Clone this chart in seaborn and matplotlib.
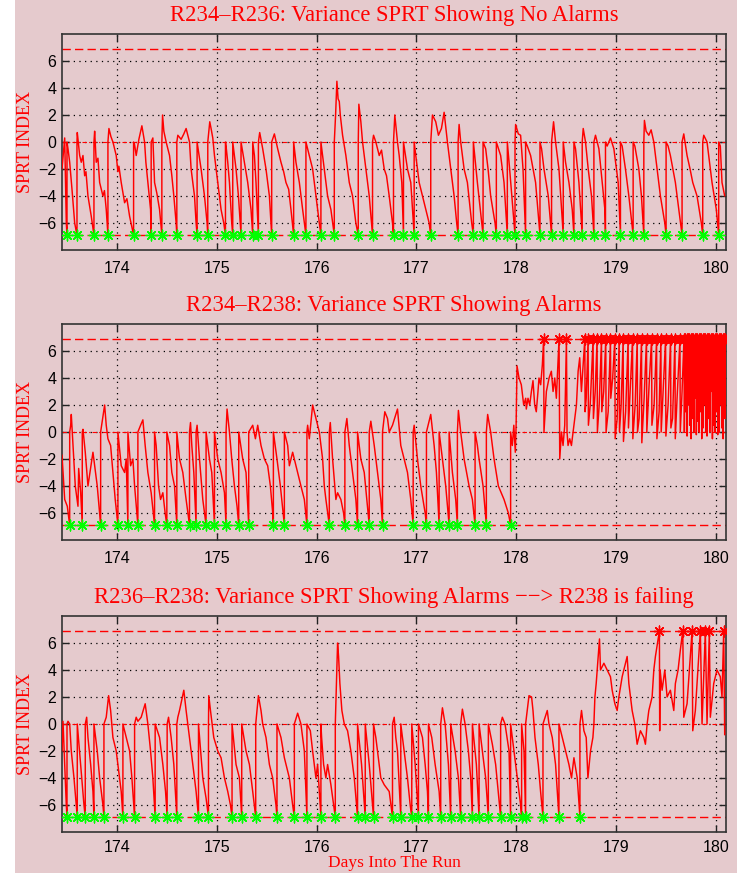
import matplotlib
matplotlib.use("Agg")
import matplotlib.pyplot as plt
import seaborn as sns
import pandas as pd
from matplotlib.patches import Rectangle

# ---------------- data ----------------
titles = [
    "R234\u2013R236: Variance SPRT Showing No Alarms",
    "R234\u2013R238: Variance SPRT Showing Alarms",
    "R236\u2013R238: Variance SPRT Showing Alarms \u2212\u2212> R238 is failing",
]
x_ticks = [174, 175, 176, 177, 178, 179, 180]
y_ticks = [-6, -4, -2, 0, 2, 4, 6]
alarm_level = 6.9
floor_level = -6.9

# panel 1: R234-R236 (day, SPRT index)
p1_points = [
    (173.45, -2.0), (173.477, 0.3), (173.493, -6.0), (173.50, -6.9), (173.50, 0.0),
    (173.51, -0.5), (173.527, -1.5), (173.55, -3.5), (173.577, -6.0), (173.60, -6.9), (173.60, 0.0),
    (173.603, 0.7), (173.627, -1.0), (173.643, -1.5), (173.66, -1.0), (173.677, -2.5), (173.69, -2.2),
    (173.71, -4.0), (173.743, -5.5),
    (173.77, -6.9), (173.77, 0.0), (173.777, 0.8), (173.793, -1.5), (173.81, -1.2), (173.827, -3.0),
    (173.86, -4.0), (173.875, -3.6),
    (173.893, -5.0), (173.91, -6.9), (173.91, 0.0), (173.92, 1.0), (173.94, 0.4), (173.96, 0.0),
    (173.993, -1.0), (174.01, -2.2), (174.02, -1.8),
    (174.043, -3.0), (174.077, -4.5), (174.1, -4.2), (174.127, -5.5), (174.167, -6.9), (174.167, 0.0),
    (174.177, -0.2), (174.193, -1.0), (174.22, 0.2), (174.25, 1.2), (174.277, 0.0), (174.29, -1.5),
    (174.31, -3.0), (174.337, -5.0), (174.343, -6.9),
    (174.343, 0.0), (174.36, 0.3), (174.377, -3.0), (174.4, -3.8), (174.427, -5.0), (174.45, -6.9),
    (174.45, 0.0), (174.457, 2.0), (174.47, 0.8), (174.493, 0.0), (174.527, -1.0), (174.55, -2.5),
    (174.57, -4.0), (174.593, -6.0),
    (174.60, -6.9), (174.60, 0.0), (174.61, 0.5), (174.643, 0.2), (174.67, 0.6), (174.693, 1.0),
    (174.727, 0.0), (174.743, -2.0), (174.777, -4.0), (174.793, -6.0), (174.803, -6.9), (174.803, 0.0),
    (174.843, -2.0), (174.877, -4.0), (174.903, -6.0), (174.91, -6.9), (174.91, 0.0), (174.93, 1.5),
    (174.943, 1.0), (174.96, 0.3),
    (174.977, -1.0), (175.01, -3.0), (175.043, -5.0), (175.07, -6.0), (175.087, -6.9), (175.087, 0.0),
    (175.093, -0.3), (175.11, -1.5), (175.127, -3.0), (175.15, -6.0), (175.16, -6.9), (175.16, 0.0),
    (175.193, -2.0), (175.217, -4.0), (175.243, -6.9), (175.243, 0.0), (175.277, -1.5), (175.31, -3.0),
    (175.343, -5.0), (175.36, -6.9), (175.36, 0.0), (175.377, -1.0), (175.393, -3.0), (175.417, -6.9),
    (175.417, 0.0), (175.43, 0.7), (175.46, -0.5), (175.493, -2.0), (175.527, -4.0), (175.543, -6.0),
    (175.55, -6.9), (175.55, 0.0), (175.577, 0.6), (175.61, -0.5), (175.643, -1.5), (175.67, -2.2),
    (175.693, -3.0), (175.72, -3.5),
    (175.743, -5.0), (175.77, -6.9), (175.77, 0.0), (175.793, -1.5), (175.827, -3.0), (175.86, -5.0),
    (175.893, -6.9), (175.893, 0.0), (175.927, -1.0), (175.96, -2.0), (175.993, -4.0), (176.027, -6.0),
    (176.043, -6.9), (176.043, 0.0), (176.077, -2.0), (176.11, -4.0), (176.143, -5.0), (176.177, -6.9),
    (176.177, 0.0), (176.19, 2.0), (176.203, 4.5), (176.215, 3.2), (176.227, 3.0), (176.237, 2.0),
    (176.26, 0.5), (176.293, -1.0),
    (176.327, -3.0), (176.36, -4.0), (176.393, -6.0), (176.417, -6.9), (176.417, 0.0), (176.423, 2.8),
    (176.443, 1.5), (176.46, 0.0), (176.493, -2.0), (176.527, -4.0), (176.55, -6.0), (176.56, -6.9),
    (176.56, 0.0), (176.57, 0.5), (176.593, 0.0), (176.627, -1.0), (176.65, -0.6), (176.677, -2.0),
    (176.70, -2.5), (176.727, -4.0),
    (176.76, -6.0), (176.77, -6.9), (176.77, 0.0), (176.783, 2.0), (176.81, 0.0), (176.827, -1.0),
    (176.853, -3.0), (176.87, -6.9), (176.87, 0.0), (176.91, -2.0), (176.943, -3.0), (176.977, -6.9),
    (176.977, 0.0), (176.993, -1.0), (177.027, -3.0), (177.06, -4.0), (177.093, -5.0), (177.127, -6.0),
    (177.143, -6.9), (177.143, 0.0), (177.16, 2.0), (177.193, 1.5), (177.22, 0.5), (177.25, 1.0),
    (177.277, 2.2),
    (177.31, 0.0), (177.343, -2.0), (177.377, -4.0), (177.403, -6.0), (177.417, -6.9), (177.417, 0.0),
    (177.427, 1.3), (177.443, 0.0), (177.477, -2.0), (177.51, -3.0), (177.553, -6.0), (177.57, -6.9),
    (177.57, 0.0), (177.61, -3.0), (177.653, -6.0), (177.667, -6.9), (177.667, 0.0), (177.693, -0.5),
    (177.717, -2.0), (177.743, -4.0), (177.787, -6.0), (177.80, -6.9), (177.80, 0.0), (177.843, -1.0),
    (177.877, -3.0), (177.91, -6.9), (177.91, 0.0), (177.933, -2.0), (177.977, -6.0), (177.987, -6.9),
    (177.987, 0.0), (177.993, 1.3), (178.02, 0.6), (178.043, 0.5), (178.067, -2.0), (178.083, -5.0),
    (178.093, -6.9),
    (178.093, 0.0), (178.11, -0.3), (178.143, -1.0), (178.193, -3.0), (178.227, -6.0), (178.237, -6.9),
    (178.237, 0.0), (178.253, -0.5), (178.277, -2.0), (178.32, -4.0), (178.353, -6.9), (178.353, 0.0),
    (178.373, 1.5), (178.393, 0.0), (178.427, -2.0), (178.453, -5.0), (178.47, -6.9), (178.47, 0.0),
    (178.493, -1.5), (178.527, -3.0), (178.56, -5.0), (178.577, -6.9), (178.577, 0.0), (178.593, -0.5),
    (178.627, -3.0), (178.66, -6.9), (178.66, 0.0), (178.67, 1.0), (178.693, 0.0), (178.72, -2.0),
    (178.753, -4.0), (178.777, -6.9), (178.777, 0.0), (178.793, 0.5), (178.827, -0.5), (178.86, -3.0),
    (178.887, -5.0), (178.893, -6.9), (178.893, 0.0), (178.91, -0.3), (178.943, 0.3), (178.977, -0.5),
    (179.02, -3.0), (179.043, -6.9), (179.043, 0.0), (179.06, -0.3), (179.093, -2.0), (179.127, -4.0),
    (179.17, -6.9), (179.17, 0.0), (179.187, -0.3), (179.227, -2.0), (179.253, -4.0), (179.277, -6.9),
    (179.277, 0.0), (179.283, 1.6), (179.30, 0.8), (179.327, 0.5), (179.35, 0.9), (179.377, 0.0),
    (179.41, -2.0), (179.443, -4.0),
    (179.487, -6.0), (179.50, -6.9), (179.50, 0.0), (179.52, -0.3), (179.543, -1.0), (179.593, -3.0),
    (179.627, -5.0), (179.66, -6.9), (179.66, 0.0), (179.677, 0.6), (179.71, -1.0), (179.74, -2.0),
    (179.767, -3.0),
    (179.81, -4.0), (179.853, -6.0), (179.867, -6.9), (179.867, 0.0), (179.877, 0.5), (179.91, 0.0),
    (179.96, -3.0), (180.003, -5.0), (180.027, -6.9), (180.027, 0.0), (180.043, -0.3), (180.06, -3.0),
    (180.087, -4.0),
]

# panel 2: R234-R238 (day, SPRT index)
p2_points = [
    (173.45, -1.7), (173.477, -5.0), (173.503, -5.5), (173.527, -6.9), (173.527, 0.0),
    (173.537, 0.5), (173.543, 1.3), (173.56, -1.0), (173.583, -4.0), (173.61, -5.5), (173.617, -2.7),
    (173.637, -4.5), (173.653, -6.9), (173.653, 0.0), (173.66, 0.2), (173.683, -1.5), (173.71, -4.0),
    (173.76, -1.5), (173.777, -2.5), (173.803, -4.0), (173.827, -6.0), (173.837, -6.9), (173.837, 0.0),
    (173.877, 2.0), (173.893, 0.5), (173.91, -0.5), (173.937, -1.0), (173.96, -3.0), (173.983, -5.0),
    (174.01, -6.9), (174.01, 0.0), (174.043, -2.5), (174.077, -3.0), (174.093, -2.0), (174.11, -6.9),
    (174.11, 0.0), (174.137, -2.5), (174.16, -2.0), (174.177, -4.0), (174.20, -6.0), (174.21, -6.9),
    (174.21, 0.0), (174.237, 0.5), (174.26, 0.9), (174.283, -1.0), (174.31, -3.0), (174.343, -4.5),
    (174.377, -6.9), (174.377, 0.0), (174.393, -1.0), (174.417, -4.0), (174.437, -5.0), (174.46, -4.5),
    (174.483, -6.0), (174.50, -6.9), (174.50, 0.0), (174.527, -1.0), (174.55, -3.0), (174.577, -4.0),
    (174.60, -6.9), (174.60, 0.0), (174.627, -2.0), (174.66, -3.0), (174.693, -5.0), (174.727, -6.9),
    (174.727, 0.0), (174.737, 0.7), (174.75, -1.0), (174.77, -3.0), (174.793, -6.9), (174.793, 0.0),
    (174.803, 0.5), (174.827, -2.0), (174.86, -5.0), (174.893, -6.9), (174.893, 0.0), (174.91, -1.0),
    (174.927, -2.0), (174.95, -3.0), (174.977, -6.9), (174.977, 0.0), (175.01, -2.0), (175.043, -3.0),
    (175.077, -4.5), (175.093, -6.9), (175.093, 0.0), (175.103, 1.7), (175.127, 0.0), (175.15, -2.0),
    (175.177, -4.0), (175.203, -5.5), (175.22, -6.9), (175.22, 0.0), (175.26, -2.0), (175.293, -3.0),
    (175.32, -6.9), (175.32, 0.0), (175.36, 0.5), (175.387, -0.5), (175.41, 0.5), (175.443, -1.0),
    (175.477, -2.0), (175.51, -2.5), (175.537, -4.0), (175.56, -6.0), (175.567, -6.9), (175.567, 0.0),
    (175.603, -2.0), (175.637, -4.0), (175.677, -6.9), (175.677, 0.0), (175.71, -1.0), (175.727, -2.5),
    (175.76, -1.5), (175.793, -2.5), (175.843, -4.0), (175.877, -5.0), (175.903, -6.9), (175.903, 0.0),
    (175.91, 0.5), (175.927, -0.5), (175.96, 2.0), (175.993, 1.0), (176.027, 0.0), (176.06, -2.0),
    (176.077, -4.0), (176.093, -5.0), (176.127, -6.9), (176.127, 0.0), (176.137, 0.7), (176.16, -2.0),
    (176.193, -5.0), (176.21, -4.5), (176.243, -5.0), (176.27, -6.0), (176.283, -6.9), (176.283, 0.0),
    (176.303, 1.0), (176.327, -1.0), (176.36, -3.0), (176.393, -5.0), (176.41, -6.9), (176.41, 0.0),
    (176.443, -2.0), (176.477, -3.0), (176.527, -6.9), (176.527, 0.0), (176.543, 0.8), (176.577, -1.0),
    (176.61, -3.0), (176.643, -5.0), (176.66, -6.9), (176.66, 0.0), (176.683, 1.5), (176.71, 1.0),
    (176.727, 0.0), (176.76, 0.5), (176.81, 1.7), (176.843, -1.0), (176.877, -2.0), (176.91, -3.0),
    (176.943, -5.0), (176.967, -6.9), (176.967, 0.0), (176.977, 0.5), (177.01, -2.0), (177.043, -4.0),
    (177.087, -6.0), (177.10, -6.9), (177.10, 0.0), (177.143, 1.3), (177.177, -1.0), (177.20, -3.0),
    (177.227, -6.9), (177.227, 0.0), (177.26, -2.0), (177.293, -4.0), (177.327, -6.9), (177.327, 0.0),
    (177.36, -3.0), (177.393, -5.0), (177.41, -6.9), (177.41, 0.0), (177.42, 1.6), (177.443, 0.0),
    (177.477, -2.0), (177.527, -4.0), (177.56, -5.0), (177.587, -6.9), (177.587, 0.0), (177.61, -1.0),
    (177.627, -2.0), (177.667, -4.0), (177.70, -6.9), (177.70, 0.0), (177.713, 1.3), (177.743, 0.0),
    (177.777, -2.0), (177.82, -4.0), (177.877, -5.0), (177.92, -6.0), (177.943, -6.9), (177.943, 0.0),
    (177.96, -1.0), (177.975, 0.5), (177.99, -1.5), (177.998, 0.5), (178.007, 4.9), (178.027, 4.0),
    (178.05, 3.5), (178.074, 2.0), (178.094, 2.5), (178.10, 1.7), (178.117, 2.5), (178.134, 2.0),
    (178.151, 3.0), (178.167, 3.8), (178.184, 2.0), (178.20, 1.5), (178.217, 3.0), (178.227, 4.0),
    (178.244, 3.5), (178.261, 5.0), (178.274, 6.9), (178.277, 0.0), (178.301, 3.0), (178.328, 4.0),
    (178.351, 4.5), (178.368, 3.0), (178.385, 4.0), (178.401, 2.5), (178.428, 6.9), (178.435, -2.0),
    (178.452, 0.0), (178.468, -1.0), (178.485, 0.5), (178.502, 6.9), (178.508, 0.0), (178.518, -1.0),
    (178.535, -0.5), (178.552, -1.0), (178.569, 0.0), (178.585, 1.0), (178.602, 2.0), (178.619, 4.5),
    (178.635, 5.5), (178.652, 3.0),
    (178.686, 6.9), (178.689, 1.5), (178.70, 2.5), (178.719, 6.9), (178.722, 0.5), (178.74, 2.0),
    (178.769, 6.9), (178.772, 1.0), (178.79, 3.0), (178.809, 6.9), (178.812, 0.0), (178.83, 2.0),
    (178.853, 6.9), (178.856, 1.5), (178.875, 3.0), (178.896, 6.9), (178.899, 0.0), (178.92, 1.5),
    (178.943, 6.9), (178.946, 2.5), (178.965, 4.0), (178.987, 6.9), (178.990, -0.5), (179.01, 1.0),
    (179.030, 6.9), (179.033, 0.0), (179.05, 2.0), (179.070, 6.9), (179.073, -0.7), (179.095, 1.5),
    (179.120, 6.9), (179.123, 0.3), (179.14, 3.0), (179.164, 6.9), (179.167, -0.5), (179.19, 2.0),
    (179.211, 6.9), (179.214, 0.0), (179.23, 1.0), (179.254, 6.9), (179.257, -0.8), (179.28, 2.5),
    (179.304, 6.9), (179.307, 0.0), (179.33, 3.5), (179.355, 6.9), (179.358, 0.5), (179.38, 2.0),
    (179.405, 6.9), (179.408, -0.5), (179.43, 1.5), (179.448, 6.9), (179.451, 0.0), (179.47, 3.0),
    (179.495, 6.9), (179.498, -0.3), (179.52, 2.0), (179.545, 6.9), (179.548, 0.3), (179.565, 1.0),
    (179.589, 6.9), (179.592, -0.5), (179.61, 2.5), (179.639, 6.9), (179.642, 0.0), (179.66, 3.0),
    (179.679, 6.9), (179.683, 0.0), (179.692, 6.9), (179.696, 1.5), (179.706, 6.9), (179.710, -0.3),
    (179.719, 6.9), (179.723, 2.0), (179.732, 6.9), (179.736, 0.5), (179.746, 6.9), (179.750, -0.5),
    (179.759, 6.9), (179.763, 1.0), (179.773, 6.9), (179.777, 0.0), (179.786, 6.9), (179.790, 2.5),
    (179.799, 6.9), (179.803, -0.2), (179.813, 6.9), (179.817, 0.8), (179.826, 6.9), (179.830, 0.0),
    (179.839, 6.9), (179.843, 1.5), (179.853, 6.9), (179.857, -0.5), (179.866, 6.9), (179.870, 0.3),
    (179.880, 6.9), (179.884, 2.0), (179.893, 6.9), (179.897, 0.0), (179.906, 6.9), (179.910, -0.3),
    (179.920, 6.9), (179.924, 1.0), (179.933, 6.9), (179.937, 0.0), (179.946, 6.9), (179.950, 3.0),
    (179.960, 6.9), (179.964, -0.5), (179.973, 6.9), (179.977, 0.5), (179.987, 6.9), (179.991, 0.0),
    (180.000, 6.9), (180.004, 1.5), (180.013, 6.9), (180.017, -0.2), (180.027, 6.9), (180.031, 0.0),
    (180.040, 6.9), (180.044, 2.0), (180.054, 6.9), (180.058, 0.3), (180.067, 6.9), (180.071, -0.5),
    (180.080, 6.9), (180.084, 1.0), (180.094, 6.9), (180.097, 1.0),
]

# panel 3: R236-R238 (day, SPRT index)
p3_points = [
    (173.45, -2.0), (173.46, 0.2), (173.477, -3.0), (173.493, -6.0), (173.50, -6.9), (173.50, 0.0),
    (173.51, 0.2), (173.527, 0.0), (173.543, -2.0), (173.57, -4.0), (173.593, -6.0), (173.603, -6.9),
    (173.603, 0.0), (173.637, -3.0), (173.67, -6.0), (173.683, -6.9), (173.683, 0.0), (173.697, 0.5),
    (173.71, -1.0), (173.737, -3.0), (173.76, -5.0), (173.77, -6.9), (173.77, 0.0), (173.803, -2.0),
    (173.827, -4.0), (173.86, -6.0), (173.87, -6.9), (173.87, 0.0), (173.893, 0.5), (173.917, 2.1),
    (173.937, 1.0), (173.96, -1.0), (173.993, -2.0), (174.027, -4.0), (174.043, -5.0), (174.06, -6.9),
    (174.06, 0.0), (174.093, -1.0), (174.127, -2.0), (174.15, -4.0), (174.177, -6.9), (174.177, 0.0),
    (174.193, 0.5), (174.21, 0.2), (174.243, 0.5), (174.283, 1.5), (174.31, 0.0), (174.337, -2.0),
    (174.36, -4.0), (174.383, -6.9), (174.383, 0.0), (174.427, -1.0), (174.46, -3.0), (174.487, -5.0),
    (174.503, -6.9), (174.503, 0.0), (174.517, 0.5), (174.543, -1.0), (174.57, -3.0), (174.60, -6.9),
    (174.60, 0.0), (174.61, 0.5), (174.627, 1.0), (174.67, 2.5), (174.693, 1.0), (174.727, -1.0),
    (174.76, -3.0), (174.793, -5.0), (174.817, -6.9), (174.817, 0.0), (174.86, -4.0), (174.893, -5.5),
    (174.917, -6.9), (174.917, 0.0), (174.92, 2.1), (174.937, 1.0), (174.97, -1.0), (175.01, -2.0),
    (175.043, -2.5), (175.077, -4.0), (175.11, -5.0), (175.137, -6.0), (175.153, -6.9), (175.153, 0.0),
    (175.193, -3.0), (175.227, -4.0), (175.25, -6.9), (175.25, 0.0), (175.293, -2.0), (175.327, -3.0),
    (175.36, -5.0), (175.39, -6.9), (175.39, 0.0), (175.417, 2.1), (175.443, 1.0), (175.46, 0.0),
    (175.493, -1.0), (175.527, -3.0), (175.56, -4.0), (175.593, -6.0), (175.603, -6.9), (175.603, 0.0),
    (175.643, -1.0), (175.677, -2.5), (175.727, -4.0), (175.76, -6.0), (175.777, -6.9), (175.777, 0.0),
    (175.81, 0.8), (175.843, 0.0), (175.877, -2.0), (175.903, -6.9), (175.903, 0.0), (175.937, -0.5),
    (175.96, -2.0), (175.993, -4.0), (176.01, -3.0), (176.043, -6.9), (176.043, 0.0), (176.05, -1.0),
    (176.07, -3.0), (176.093, -4.0), (176.11, -3.0), (176.143, -4.5), (176.17, -6.0), (176.187, -6.9),
    (176.187, 0.0), (176.21, 6.0), (176.22, 5.0), (176.233, 3.0), (176.253, 1.0), (176.277, 0.0),
    (176.31, -0.5), (176.343, -2.0), (176.377, -4.0), (176.41, -6.9), (176.41, 0.0), (176.45, -3.0),
    (176.487, -6.9), (176.487, 0.0), (176.527, -3.0), (176.57, -6.9), (176.57, 0.0), (176.593, -1.0),
    (176.61, -2.0), (176.643, -4.0), (176.677, -4.5), (176.727, -5.0), (176.76, -6.9), (176.76, 0.0),
    (176.777, 0.5), (176.793, -1.0), (176.81, -2.0), (176.843, -6.9), (176.843, 0.0), (176.877, -2.0),
    (176.91, -4.0), (176.937, -6.0), (176.953, -6.9), (176.953, 0.0), (176.987, -3.0), (177.02, -6.9),
    (177.02, 0.0), (177.06, -1.0), (177.087, -3.0), (177.11, -5.0), (177.12, -6.9), (177.12, 0.0),
    (177.153, -1.0), (177.187, -3.0), (177.227, -5.0), (177.243, -6.9), (177.243, 0.0), (177.26, 1.2),
    (177.287, 0.0), (177.32, -3.0), (177.343, -6.9), (177.343, 0.0), (177.387, -2.0), (177.42, -4.0),
    (177.443, -6.9), (177.443, 0.0), (177.46, 1.1), (177.487, 0.0), (177.52, -2.0), (177.543, -4.0),
    (177.56, -6.9), (177.56, 0.0), (177.60, -3.0), (177.627, -6.9), (177.627, 0.0), (177.66, -2.0),
    (177.693, -4.0), (177.72, -6.9), (177.72, 0.0), (177.76, -1.5), (177.793, -3.0), (177.843, -6.9),
    (177.843, 0.0), (177.86, 0.5), (177.887, 0.0), (177.927, -2.0), (177.943, -6.9), (177.943, 0.0),
    (177.977, -2.0), (178.01, -4.0), (178.043, -6.0), (178.053, -6.9), (178.053, 0.0), (178.077, -2.0),
    (178.093, -6.9), (178.093, 0.0), (178.127, 2.1), (178.153, 2.0), (178.167, 1.0), (178.187, -1.0),
    (178.22, -3.0), (178.243, -5.0), (178.267, -6.9), (178.267, 0.0), (178.31, 1.0), (178.327, 0.0),
    (178.36, -1.0), (178.393, -3.0), (178.427, -6.9), (178.427, 0.0), (178.46, -1.0), (178.493, -2.0),
    (178.527, -3.0), (178.553, -4.0), (178.577, -2.5), (178.61, -4.0), (178.637, -6.9), (178.637, 0.0),
    (178.653, 1.0), (178.677, -0.5), (178.70, -1.0), (178.717, -4.0), (178.743, -2.0), (178.767, -1.0),
    (178.777, 0.0), (178.787, 2.0), (178.80, 3.0), (178.833, 6.3), (178.843, 4.0), (178.877, 4.5),
    (178.91, 4.0), (178.943, 3.5), (178.96, 2.5), (178.987, 1.5), (179.01, 1.0), (179.027, 2.0),
    (179.06, 3.5), (179.093, 4.5), (179.11, 5.0), (179.127, 3.0), (179.16, 1.0), (179.187, 0.0),
    (179.21, -1.5), (179.243, -0.5), (179.277, -1.0), (179.293, -1.5), (179.31, 0.0), (179.327, 1.0),
    (179.36, 2.0), (179.377, 4.0), (179.393, 5.0), (179.433, 6.9), (179.436, -0.5), (179.44, 4.0),
    (179.46, 2.5), (179.487, 4.0), (179.51, 2.0), (179.543, 2.5), (179.577, 1.0), (179.593, 3.0),
    (179.62, 4.0), (179.643, 5.5), (179.667, 6.9), (179.677, 0.5), (179.71, 1.5), (179.76, 6.9),
    (179.767, -0.5), (179.793, 1.0), (179.843, 6.9), (179.86, 0.0), (179.893, 6.9), (179.91, 0.0),
    (179.933, 6.9), (179.943, 0.5), (179.977, 3.0), (180.01, 4.0), (180.043, 3.5), (180.06, 2.0),
    (180.077, 6.9), (180.087, -0.8),
]

panels = [p1_points, p2_points, p3_points]

# ---------------- style ----------------
PINK = "#E5CACD"
RED = "#FF0000"
GREEN = "#00FF00"

sns.set_theme(style="ticks")
plt.rcParams["font.family"] = ["Liberation Sans", "DejaVu Sans"]
plt.rcParams["axes.unicode_minus"] = True

fig = plt.figure(figsize=(7.4, 8.73), dpi=100, facecolor="white")
fig.add_artist(Rectangle((15 / 740, 0), (737 - 15) / 740, 1, transform=fig.transFigure,
                         facecolor=PINK, edgecolor="none", zorder=-10))

left, width, height = 62 / 740, 664 / 740, 216 / 873
bottoms = [1 - 250 / 873, 1 - 540 / 873, 1 - 832 / 873]

serif = ["Liberation Serif", "DejaVu Serif"]
asterisk = (8, 2, 0)

for i, (pts, title, bottom) in enumerate(zip(panels, titles, bottoms)):
    ax = fig.add_axes([left, bottom, width, height])
    ax.set_facecolor(PINK)
    df = pd.DataFrame(pts, columns=["day", "sprt"])

    ax.set_xlim(173.45, 180.1)
    ax.set_ylim(-8, 8)
    ax.set_xticks(x_ticks)
    ax.set_yticks(y_ticks)
    ax.grid(True, color="black", linestyle=(0, (1, 3.5)), linewidth=0.9, zorder=1)
    ax.set_axisbelow(True)

    ax.axhline(0, color=RED, linestyle=(0, (4, 2, 1, 2)), linewidth=0.8, zorder=1.5)
    ax.axhline(alarm_level, color=RED, linestyle=(0, (6, 3)), linewidth=1.0, zorder=1.5)
    ax.axhline(floor_level, color=RED, linestyle=(0, (6, 3)), linewidth=1.0, zorder=1.5)

    sns.lineplot(data=df, x="day", y="sprt", estimator=None, sort=False,
                 color=RED, linewidth=1.05, ax=ax, zorder=3)

    floor_pts = df[df["sprt"] <= floor_level]
    alarm_pts = df[df["sprt"] >= alarm_level]
    sns.scatterplot(data=floor_pts, x="day", y="sprt", marker=asterisk, color=GREEN,
                    edgecolor=GREEN, s=60, linewidth=1.0, ax=ax, zorder=4)
    if len(alarm_pts):
        sns.scatterplot(data=alarm_pts, x="day", y="sprt", marker=asterisk, color=RED,
                        edgecolor=RED, s=60, linewidth=1.0, ax=ax, zorder=4)

    ax.set_title(title, color=RED, fontsize=16.3, family=serif, pad=9)
    ax.set_ylabel("SPRT INDEX", color=RED, fontsize=13, family=serif, labelpad=3)

    ax.tick_params(axis="both", direction="in", length=5, width=1, top=True, right=True,
                   labelsize=11.5, colors="#222222", labelcolor="black")
    ax.tick_params(axis="y", pad=4)
    if i == 2:
        ax.tick_params(axis="x", pad=6)
        ax.set_xlabel("Days Into The Run", color=RED, fontsize=12.5, family=serif, labelpad=0)
    else:
        ax.tick_params(axis="x", pad=8)
        ax.set_xlabel("")
    for sp in ax.spines.values():
        sp.set_visible(True)
        sp.set_color("#333333")
        sp.set_linewidth(1.2)

fig.savefig("out.png", dpi=100, facecolor=fig.get_facecolor())
